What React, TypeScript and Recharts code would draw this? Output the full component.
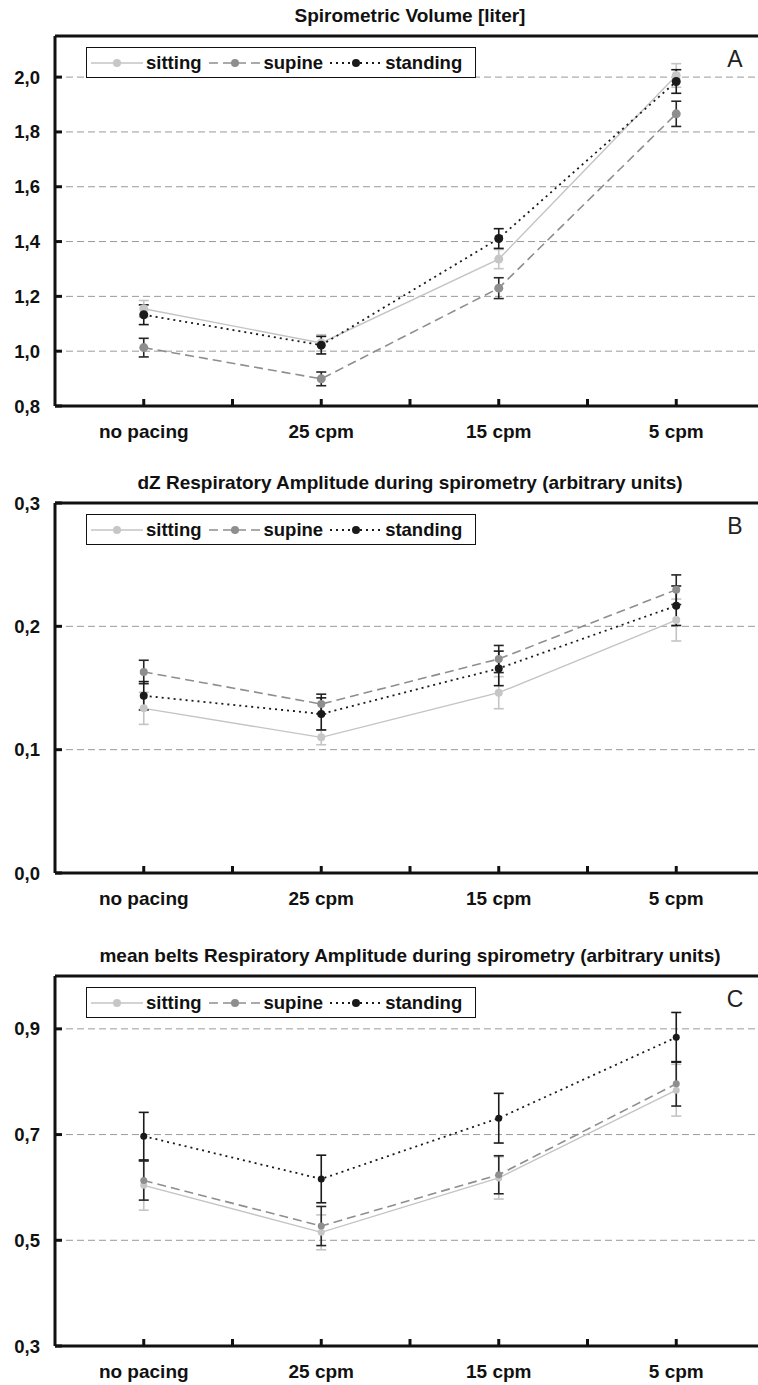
import { LineChart, Line, XAxis, YAxis, CartesianGrid, ErrorBar, ReferenceLine } from "recharts";

const FONT = '"Liberation Sans", Arial, Helvetica, sans-serif';

const categories = ["no pacing", "25 cpm", "15 cpm", "5 cpm"];
const xTicks = [0, 0.5, 1, 1.5, 2, 2.5, 3];

// A - spirometric volume [liter]
const volSitting = [1.155, 1.03, 1.336, 2.006];
const volSittingErr = [0.03, 0.03, 0.035, 0.043];
const volSupine = [1.013, 0.899, 1.23, 1.866];
const volSupineErr = [0.034, 0.025, 0.038, 0.046];
const volStanding = [1.133, 1.022, 1.411, 1.984];
const volStandingErr = [0.036, 0.032, 0.036, 0.043];
const volTicks = [0.8, 1.0, 1.2, 1.4, 1.6, 1.8, 2.0];

// B - dZ respiratory amplitude
const dzSitting = [0.1335, 0.11, 0.1462, 0.2051];
const dzSittingErr = [0.013, 0.006, 0.013, 0.017];
const dzSupine = [0.163, 0.137, 0.1735, 0.2297];
const dzSupineErr = [0.0095, 0.008, 0.011, 0.012];
const dzStanding = [0.1437, 0.129, 0.1659, 0.2167];
const dzStandingErr = [0.0115, 0.013, 0.014, 0.016];
const dzTicks = [0.0, 0.1, 0.2, 0.3];

// C - mean belts respiratory amplitude
const beltSitting = [0.604, 0.515, 0.618, 0.784];
const beltSittingErr = [0.047, 0.033, 0.04, 0.049];
const beltSupine = [0.613, 0.527, 0.624, 0.796];
const beltSupineErr = [0.037, 0.037, 0.036, 0.042];
const beltStanding = [0.697, 0.616, 0.731, 0.884];
const beltStandingErr = [0.045, 0.045, 0.047, 0.047];
const beltTicks = [0.3, 0.5, 0.7, 0.9];

const series = [
  { key: "sitting", line: "#c4c4c4", dot: "#c6c6c6", err: "#c4c4c4", dash: undefined, width: 1.4 },
  { key: "supine", line: "#8e8e8e", dot: "#8e8e8e", err: "#262626", dash: "9 5", width: 1.6 },
  { key: "standing", line: "#1a1a1a", dot: "#1a1a1a", err: "#1a1a1a", dash: "2 4", width: 1.8 },
];

const rows = (s: number[], se: number[], p: number[], pe: number[], t: number[], te: number[]) =>
  categories.map((c, i) => ({
    idx: i,
    name: c,
    sitting: s[i],
    sittingErr: se[i],
    supine: p[i],
    supineErr: pe[i],
    standing: t[i],
    standingErr: te[i],
  }));

const panels = [
  {
    title: "Spirometric Volume [liter]",
    letter: "A",
    top: 0,
    domain: [0.8, 2.15],
    ticks: volTicks,
    dotR: 4.5,
    data: rows(volSitting, volSittingErr, volSupine, volSupineErr, volStanding, volStandingErr),
  },
  {
    title: "dZ Respiratory Amplitude during spirometry (arbitrary units)",
    letter: "B",
    top: 467,
    domain: [0, 0.3],
    ticks: dzTicks,
    dotR: 4,
    data: rows(dzSitting, dzSittingErr, dzSupine, dzSupineErr, dzStanding, dzStandingErr),
  },
  {
    title: "mean belts Respiratory Amplitude during spirometry (arbitrary units)",
    letter: "C",
    top: 940,
    domain: [0.3, 1.0],
    ticks: beltTicks,
    dotR: 3.5,
    data: rows(beltSitting, beltSittingErr, beltSupine, beltSupineErr, beltStanding, beltStandingErr),
  },
];

const PLOT_TOP = 36;
const PLOT_H = 370;

const fmt = (v: number) => v.toFixed(1).replace(".", ",");

const XTick = (props: any) => {
  const { x, y, payload } = props;
  const v = payload.value;
  const isCat = Number.isInteger(v);
  return (
    <g>
      <line x1={x} x2={x} y1={y} y2={y - 7} stroke="#111" strokeWidth={3} />
      {isCat && (
        <text x={x} y={y + 32} textAnchor="middle" fontFamily={FONT} fontWeight="bold" fontSize={19} fill="#111">
          {categories[v]}
        </text>
      )}
    </g>
  );
};

const YTick = (props: any) => {
  const { x, y, payload } = props;
  return (
    <g>
      <line x1={x} x2={x + 7} y1={y} y2={y} stroke="#111" strokeWidth={3} />
      <text x={x - 15} y={y + 6.5} textAnchor="end" fontFamily={FONT} fontWeight="bold" fontSize={18.5} fill="#111">
        {fmt(payload.value)}
      </text>
    </g>
  );
};

function LegendBox({ top }: { top: number }) {
  return (
    <div
      style={{
        position: "absolute",
        left: 86,
        top,
        width: 390,
        height: 31,
        boxSizing: "border-box",
        border: "1.5px solid #111",
        background: "#fff",
        display: "flex",
        alignItems: "center",
        paddingLeft: 4,
        fontFamily: FONT,
        fontWeight: "bold",
        fontSize: 18.5,
        color: "#111",
      }}
    >
      {series.map((s) => (
        <div key={s.key} style={{ display: "flex", alignItems: "center", marginRight: 7 }}>
          <svg width={52} height={12}>
            <line x1={0} x2={52} y1={6} y2={6} stroke={s.line} strokeWidth={s.width} strokeDasharray={s.dash} />
            <circle cx={26} cy={6} r={4} fill={s.dot} />
          </svg>
          <span style={{ marginLeft: 3 }}>{s.key}</span>
        </div>
      ))}
    </div>
  );
}

function Panel({ p }: { p: (typeof panels)[number] }) {
  return (
    <div style={{ position: "absolute", left: 0, top: p.top, width: 780, height: 446 }}>
      <div
        style={{
          position: "absolute",
          left: 55,
          width: 710,
          top: PLOT_TOP - 32,
          height: 24,
          lineHeight: "24px",
          textAlign: "center",
          fontFamily: FONT,
          fontWeight: "bold",
          fontSize: 19,
          color: "#111",
        }}
      >
        {p.title}
      </div>
      <div style={{ position: "absolute", left: 0, top: 0 }}>
        <LineChart width={780} height={PLOT_TOP + PLOT_H + 40} data={p.data} margin={{ top: PLOT_TOP, right: 15, left: 0, bottom: 0 }}>
          <CartesianGrid horizontal vertical={false} stroke="#9a9a9a" strokeDasharray="7 4" strokeWidth={1} />
          <XAxis
            dataKey="idx"
            type="number"
            domain={[-0.5, 3.5]}
            ticks={xTicks}
            interval={0}
            height={40}
            tickLine={false}
            tickSize={0}
            tickMargin={0}
            tick={<XTick />}
            axisLine={{ stroke: "#111", strokeWidth: 3 }}
          />
          <YAxis
            type="number"
            domain={p.domain}
            ticks={p.ticks}
            interval={0}
            width={55}
            tickLine={false}
            tickSize={0}
            tickMargin={0}
            tick={<YTick />}
            axisLine={{ stroke: "#111", strokeWidth: 3 }}
            allowDataOverflow
          />
          <ReferenceLine y={p.domain[1]} stroke="#111" strokeWidth={3} />
          {series.map((s) => (
            <Line
              key={s.key}
              dataKey={s.key}
              type="linear"
              stroke={s.line}
              strokeWidth={s.width}
              strokeDasharray={s.dash}
              dot={{ r: p.dotR, fill: s.dot, stroke: "none", strokeDasharray: "0" }}
              activeDot={false}
              isAnimationActive={false}
            >
              <ErrorBar dataKey={`${s.key}Err`} width={5} stroke={s.err} strokeWidth={1.6} />
            </Line>
          ))}
        </LineChart>
      </div>
      <LegendBox top={PLOT_TOP + 11} />
      <div
        style={{
          position: "absolute",
          left: 722,
          top: PLOT_TOP + 9,
          width: 26,
          textAlign: "center",
          fontFamily: FONT,
          fontSize: 23,
          color: "#222",
          lineHeight: "28px",
        }}
      >
        {p.letter}
      </div>
    </div>
  );
}

export default function App() {
  return (
    <div
      style={{
        position: "absolute",
        left: 0,
        top: 0,
        width: 758,
        height: 1385,
        overflow: "hidden",
        background: "#fff",
      }}
    >
      {panels.map((p) => (
        <Panel key={p.letter} p={p} />
      ))}
    </div>
  );
}
